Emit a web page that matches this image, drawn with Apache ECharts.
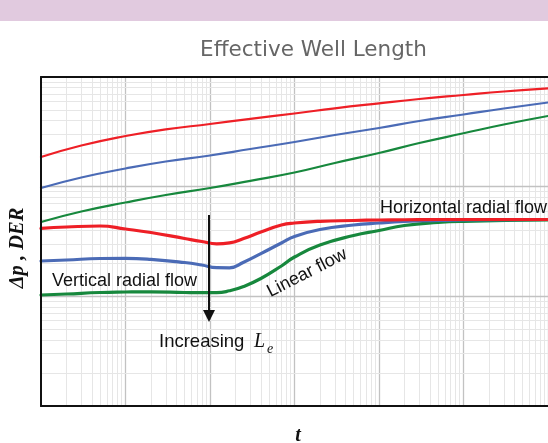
<!DOCTYPE html>
<html>
<head>
<meta charset="utf-8">
<script src="https://cdn.jsdelivr.net/npm/echarts@6/dist/echarts.min.js"></script>
<style>
  html, body { margin: 0; padding: 0; background: #fff; }
  #chart { width: 548px; height: 443px; }
</style>
</head>
<body>
<div id="chart"></div>
<script>
// Pressure (upper curves) sampled in time
const tUpper = [1, 3, 10, 30, 100, 300, 1000, 3000, 10000, 30000, 100000, 300000, 1000000];
const dpRed   = [186.4, 237.3, 289.7, 333.4, 372.7, 415.7, 464.6, 518.3, 575.5, 630.0, 685.0, 737.5, 788.6];
const dpBlue  = [97.2, 121.2, 146.4, 169.6, 192.4, 220.5, 255.4, 295.9, 342.6, 396.9, 455.0, 516.1, 585.3];
const dpGreen = [47.6, 59.35, 71.7, 83.9, 97.2, 113.1, 134.6, 164.3, 202.7, 250.1, 306.7, 368.8, 441.0];

// Derivative (lower curves) sampled in time
const tLower = [1, 2, 5, 10, 20, 50, 80, 120, 170, 250, 400, 700, 1000, 2000, 5000, 10000, 20000, 50000, 100000, 1000000];
const derRed   = [41.71, 42.87, 43.78, 41.11, 38.19, 33.68, 31.62, 30.13, 30.70, 33.68, 38.60, 44.71, 46.63, 48.33, 49.14, 49.66, 49.90, 50.18, 50.18, 50.18];
const derBlue  = [21.00, 21.44, 22.13, 22.23, 21.76, 20.35, 19.31, 18.24, 18.20, 20.48, 24.53, 30.64, 35.13, 40.68, 44.71, 46.63, 48.12, 49.14, 49.66, 50.18];
const derGreen = [10.28, 10.50, 10.84, 10.95, 11.00, 10.84, 10.79, 10.79, 11.23, 12.29, 14.54, 18.91, 22.84, 29.38, 35.87, 39.83, 44.24, 47.22, 48.33, 49.66];

// Log-axis extents and grid steps
const xDecades = [1, 10, 100, 1000, 10000, 100000, 1000000];
const yDecades = [1, 10, 100, 1000];
const minorSteps = [2, 3, 4, 5, 6, 7, 8, 9];

const RED = '#ee1f26';
const BLUE = '#4b6bb6';
const GREEN = '#17883d';

function pairs(xs, ys) {
  return xs.map((x, i) => [x, ys[i]]);
}

// Grid lines: decades darker, in-between multiples lighter
const majorStyle = { color: '#c2c2c2', width: 1.3, type: 'solid' };
const minorStyle = { color: '#e6e6e6', width: 1, type: 'solid' };
const gridLines = [];
xDecades.forEach((d, i) => {
  if (i > 0) gridLines.push({ xAxis: d, lineStyle: majorStyle });
  if (i < xDecades.length - 1) {
    minorSteps.forEach(m => gridLines.push({ xAxis: d * m, lineStyle: minorStyle }));
  }
});
yDecades.forEach((d, i) => {
  if (i > 0 && i < yDecades.length - 1) gridLines.push({ yAxis: d, lineStyle: majorStyle });
  if (i < yDecades.length - 1) {
    minorSteps.forEach(m => gridLines.push({ yAxis: d * m, lineStyle: minorStyle }));
  }
});

function curve(name, xs, ys, color, width) {
  return {
    name: name,
    type: 'line',
    data: pairs(xs, ys),
    smooth: 0.5,
    showSymbol: false,
    symbol: 'none',
    silent: true,
    z: 2,
    lineStyle: { color: color, width: width, cap: 'round', join: 'round' },
    emphasis: { disabled: true }
  };
}

const labelFont = '"Liberation Sans", Arial, sans-serif';
const serifFont = '"Liberation Serif", "Times New Roman", serif';

const chart = echarts.init(document.getElementById('chart'), null, { renderer: 'canvas' });
chart.setOption({
  animation: false,
  backgroundColor: '#ffffff',
  grid: { left: 41, right: -4.5, top: 77, bottom: 37, containLabel: false },
  xAxis: [
    {
      type: 'log', logBase: 10, min: 1, max: 1000000, position: 'bottom', z: 4,
      axisLine: { show: true, onZero: false, lineStyle: { color: '#111', width: 2 } },
      axisTick: { show: false }, axisLabel: { show: false }, splitLine: { show: false }
    },
    {
      type: 'log', logBase: 10, min: 1, max: 1000000, position: 'top', z: 4,
      axisLine: { show: true, onZero: false, lineStyle: { color: '#111', width: 2 } },
      axisTick: { show: false }, axisLabel: { show: false }, splitLine: { show: false }
    }
  ],
  yAxis: {
    type: 'log', logBase: 10, min: 1, max: 1000, z: 4,
    axisLine: { show: true, onZero: false, lineStyle: { color: '#111', width: 2 } },
    axisTick: { show: false }, axisLabel: { show: false }, splitLine: { show: false }
  },
  series: [
    {
      name: 'grid',
      type: 'line',
      data: [[1, 1]],
      showSymbol: false,
      symbol: 'none',
      silent: true,
      lineStyle: { opacity: 0 },
      z: 1,
      markLine: {
        silent: true,
        z: 1,
        animation: false,
        symbol: ['none', 'none'],
        label: { show: false },
        emphasis: { disabled: true },
        data: gridLines
      }
    },
    curve('Δp 1', tUpper, dpGreen, GREEN, 2.2),
    curve('Δp 2', tUpper, dpBlue, BLUE, 2.2),
    curve('Δp 3', tUpper, dpRed, RED, 2.2),
    curve('DER 1', tLower, derGreen, GREEN, 3.2),
    curve('DER 2', tLower, derBlue, BLUE, 3.2),
    curve('DER 3', tLower, derRed, RED, 3.2)
  ],
  graphic: [
    { type: 'rect', left: 0, top: 0, z: 10, shape: { x: 0, y: 0, width: 548, height: 21 }, style: { fill: '#e1cadf' } },
    {
      type: 'text', x: 313.5, y: 50.5, z: 10,
      style: { text: 'Effective Well Length', font: '21.5px "DejaVu Sans", sans-serif', fill: '#666',
               align: 'center', verticalAlign: 'middle', textAlign: 'center', textVerticalAlign: 'middle' }
    },
    {
      type: 'text', x: 18, y: 248, rotation: Math.PI / 2, z: 10,
      style: { text: 'Δp , DER', font: 'italic bold 20.5px ' + serifFont, fill: '#111',
               align: 'center', verticalAlign: 'middle', textAlign: 'center', textVerticalAlign: 'middle' }
    },
    {
      type: 'text', x: 298, y: 436, z: 10,
      style: { text: 't', font: 'italic bold 20px ' + serifFont, fill: '#111',
               align: 'center', verticalAlign: 'middle', textAlign: 'center', textVerticalAlign: 'middle' }
    },
    {
      type: 'text', x: 380, y: 208, z: 10,
      style: { text: 'Horizontal radial flow', font: '18px ' + labelFont, fill: '#111',
               align: 'left', verticalAlign: 'middle', textAlign: 'left', textVerticalAlign: 'middle' }
    },
    {
      type: 'text', x: 52, y: 281, z: 10,
      style: { text: 'Vertical radial flow', font: '18px ' + labelFont, fill: '#111',
               align: 'left', verticalAlign: 'middle', textAlign: 'left', textVerticalAlign: 'middle' }
    },
    {
      type: 'text', x: 307, y: 273, rotation: 27 * Math.PI / 180, z: 10,
      style: { text: 'Linear flow', font: '18px ' + labelFont, fill: '#111',
               align: 'center', verticalAlign: 'middle', textAlign: 'center', textVerticalAlign: 'middle' }
    },
    {
      type: 'text', x: 159, y: 342, z: 10,
      style: { text: 'Increasing', font: '18.5px ' + labelFont, fill: '#111',
               align: 'left', verticalAlign: 'middle', textAlign: 'left', textVerticalAlign: 'middle' }
    },
    {
      type: 'text', x: 254, y: 342, z: 10,
      style: { text: 'L', font: 'italic 20px ' + serifFont, fill: '#111',
               align: 'left', verticalAlign: 'middle', textAlign: 'left', textVerticalAlign: 'middle' }
    },
    {
      type: 'text', x: 267, y: 349, z: 10,
      style: { text: 'e', font: 'italic 14px ' + serifFont, fill: '#111',
               align: 'left', verticalAlign: 'middle', textAlign: 'left', textVerticalAlign: 'middle' }
    },
    {
      type: 'line', z: 10,
      shape: { x1: 209, y1: 215, x2: 209, y2: 313 },
      style: { stroke: '#111', lineWidth: 2 }
    },
    {
      type: 'polygon', z: 10,
      shape: { points: [[203, 310], [215, 310], [209, 322]] },
      style: { fill: '#111' }
    }
  ]
});
</script>
</body>
</html>
